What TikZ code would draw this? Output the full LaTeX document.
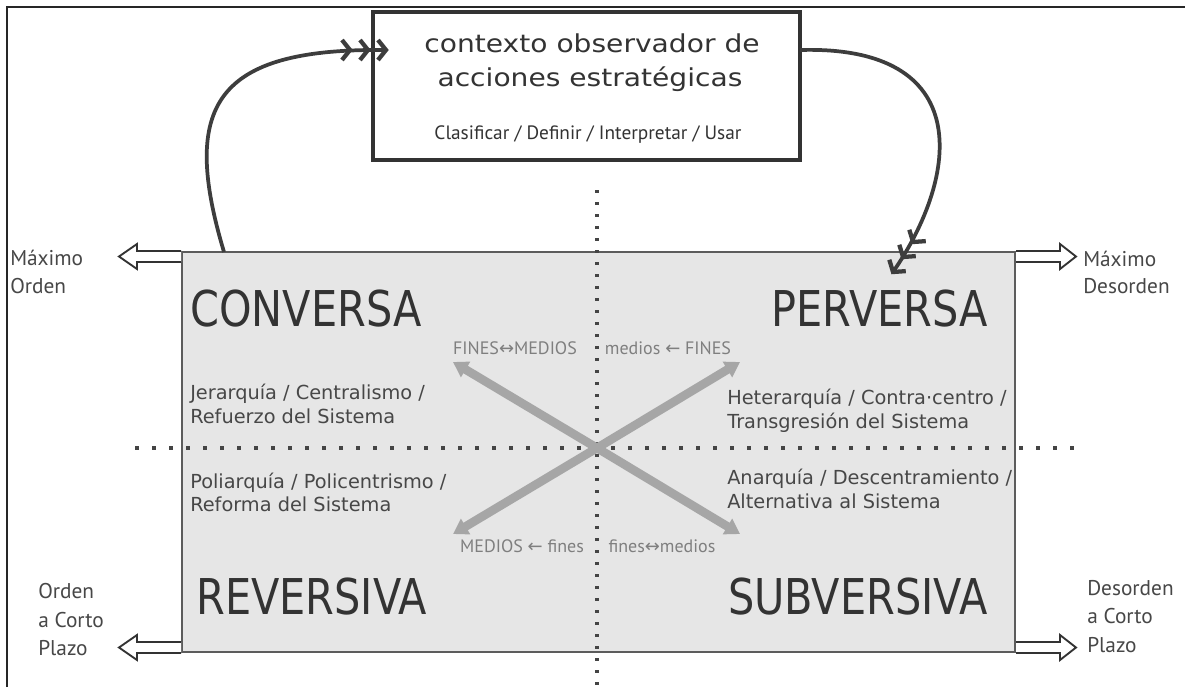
\documentclass[tikz,border=0pt]{standalone}
\usepackage{fontspec}
\setmainfont{DejaVu Sans}
\newfontfamily\bigf[FakeStretch=0.84]{DejaVu Sans}
\newfontfamily\titlef[FakeStretch=1.14]{DejaVu Sans}
\newfontfamily\hum{PT Sans}
\usetikzlibrary{arrows.meta}
\definecolor{ink}{HTML}{333333}
\definecolor{quadfill}{HTML}{E6E6E6}
\definecolor{xgray}{HTML}{A6A6A6}
\definecolor{lblgray}{HTML}{7F7F7F}
\definecolor{dotc}{HTML}{444444}
\tikzset{
  frame/.style={line width=1.5pt, draw=black!85},
  quad/.style={draw=ink!80, fill=quadfill, line width=1.5pt, inner sep=0pt},
  obsbox/.style={draw=ink, line width=3pt, fill=white, inner sep=0pt},
  vdots/.style={dotc, line width=2.4pt, dash pattern=on 2.4pt off 6.6pt},
  hdots/.style={dotc, line width=2.4pt, dash pattern=on 3.2pt off 9.55pt},
  xarrow/.style={xgray, line width=6.5pt, -{Triangle[length=11pt,width=13pt]}},
  curve/.style={draw=ink!95, line width=2.8pt},
  chevron/.pic={\draw[ink!95, line width=3.2pt, line join=miter, miter limit=4] (-8,-10) -- (0,0) -- (-8,10);},
  harrow/.style={draw=ink, fill=white, line width=1.4pt, line join=miter},
  big/.style={font=\bigf\fontsize{37}{40}\selectfont, text=ink, inner sep=0pt},
  desc/.style={font=\fontsize{14.5}{17}\selectfont, text=ink!90, inner sep=0pt, anchor=base west},
  side/.style={font=\hum\fontsize{16}{19}\selectfont, text=ink!90, inner sep=0pt, anchor=base west},
  small/.style={font=\hum\fontsize{13.5}{15}\selectfont, text=lblgray, inner sep=0pt, anchor=base},
  arrL/.pic={\draw[harrow] (0,-5.5) -- (-44,-5.5) -- (-44,-12.5) -- (-62,0) -- (-44,12.5) -- (-44,5.5) -- (0,5.5);},
  arrR/.pic={\draw[harrow] (0,-5.5) -- (44,-5.5) -- (44,-12.5) -- (60,0) -- (44,12.5) -- (44,5.5) -- (0,5.5);}
}
\begin{document}
\begin{tikzpicture}[x=0.75pt,y=-0.75pt]
\useasboundingbox (0,0) rectangle (1185,687);
\fill[white] (0,0) rectangle (1185,687);
\draw[frame] (7,687) -- (7,7) -- (1185,7);

% main quadrant area
\node[quad, minimum width=624.75pt, minimum height=300pt] (Q) at (598.5,452) {};

% dotted axes
\coordinate (Vt) at (597,190);
\coordinate (Vb) at (597,685);
\coordinate (Hl) at (135,448);
\coordinate (Hr) at (1078,448);
\draw[vdots] (Vt) -- (Vb);
\draw[hdots] (Hl) -- (Hr);

% grey X
\coordinate (C) at (597,448);
\coordinate (UL) at (453,362);
\coordinate (UR) at (740,362);
\coordinate (LL) at (453,534);
\coordinate (LR) at (740,534);
\draw[xarrow] (C) -- (UL);
\draw[xarrow] (C) -- (UR);
\draw[xarrow] (C) -- (LL);
\draw[xarrow] (C) -- (LR);

% observer box
\node[obsbox, minimum width=320.25pt, minimum height=111pt] (obs) at (586.5,86) {};
\node[font=\titlef\fontsize{18.5}{22}\selectfont, text=ink, inner sep=0pt, anchor=base] (t1) at (592,52) {contexto observador de};
\node[font=\titlef\fontsize{18.5}{22}\selectfont, text=ink, inner sep=0pt, anchor=base] (t2) at (590,86) {acciones estratégicas};
\node[font=\hum\fontsize{14.5}{17}\selectfont, text=ink, inner sep=0pt, anchor=base] (t3) at (588,139) {Clasificar / Definir / Interpretar / Usar};

% feedback curves
\coordinate (L0) at (224,252);
\coordinate (L1) at (386,50);
\coordinate (R0) at (800,50);
\coordinate (R1) at (893,272);
\draw[curve] (L0) .. controls (180,105) and (215,48) .. (L1);
\draw[curve] (R0) .. controls (975,45) and (960,175) .. (R1);
% triple chevron heads
\pic at (L1) {chevron};
\pic at (368,50) {chevron};
\pic at (350,50) {chevron};
\pic[rotate=235.4] at (R1) {chevron};
\pic[rotate=235.4] at (903,257) {chevron};
\pic[rotate=235.4] at (913,242) {chevron};

% quadrant titles
\node[big, anchor=base west] (conv) at (190,326) {CONVERSA};
\node[big, anchor=base east] (perv) at (988,326) {PERVERSA};
\node[big, anchor=base west] (rev) at (196,614) {REVERSIVA};
\node[big, anchor=base east] (subv) at (988,614) {SUBVERSIVA};

% descriptors
\node[desc] (d1a) at (190,399) {Jerarquía / Centralismo /};
\node[desc] (d1b) at (190,423) {Refuerzo del Sistema};
\node[desc] (d2a) at (727,404) {Heterarquía / Contra·centro /};
\node[desc] (d2b) at (727,428) {Transgresión del Sistema};
\node[desc] (d3a) at (190,488) {Poliarquía / Policentrismo /};
\node[desc] (d3b) at (190,511) {Reforma del Sistema};
\node[desc] (d4a) at (727,484) {Anarquía / Descentramiento /};
\node[desc] (d4b) at (727,508) {Alternativa al Sistema};

% small arrow labels
\node[small] (s1) at (515,354) {FINES{\fontspec{DejaVu Sans}↔}MEDIOS};
\node[small] (s2) at (668,354) {medios {\fontspec{DejaVu Sans}←} FINES};
\node[small] (s3) at (522,552) {MEDIOS {\fontspec{DejaVu Sans}←} fines};
\node[small] (s4) at (662,552) {fines{\fontspec{DejaVu Sans}↔}medios};

% side hollow arrows
\pic at ([yshift=-4.125pt]Q.north west) {arrL};
\pic at ([yshift=4.125pt]Q.south west) {arrL};
\pic at ([yshift=-4.125pt]Q.north east) {arrR};
\pic at ([yshift=4.125pt]Q.south east) {arrR};

% side labels
\node[side] (ml1) at (10,265) {Máximo};
\node[side] (ml2) at (10,293) {Orden};
\node[side] (mr1) at (1083,266) {Máximo};
\node[side] (mr2) at (1083,293) {Desorden};
\node[side] (bl1) at (38,598) {Orden};
\node[side] (bl2) at (38,627) {a Corto};
\node[side] (bl3) at (38,655) {Plazo};
\node[side] (br1) at (1087,595) {Desorden};
\node[side] (br2) at (1087,623) {a Corto};
\node[side] (br3) at (1087,652) {Plazo};
\end{tikzpicture}
\end{document}
